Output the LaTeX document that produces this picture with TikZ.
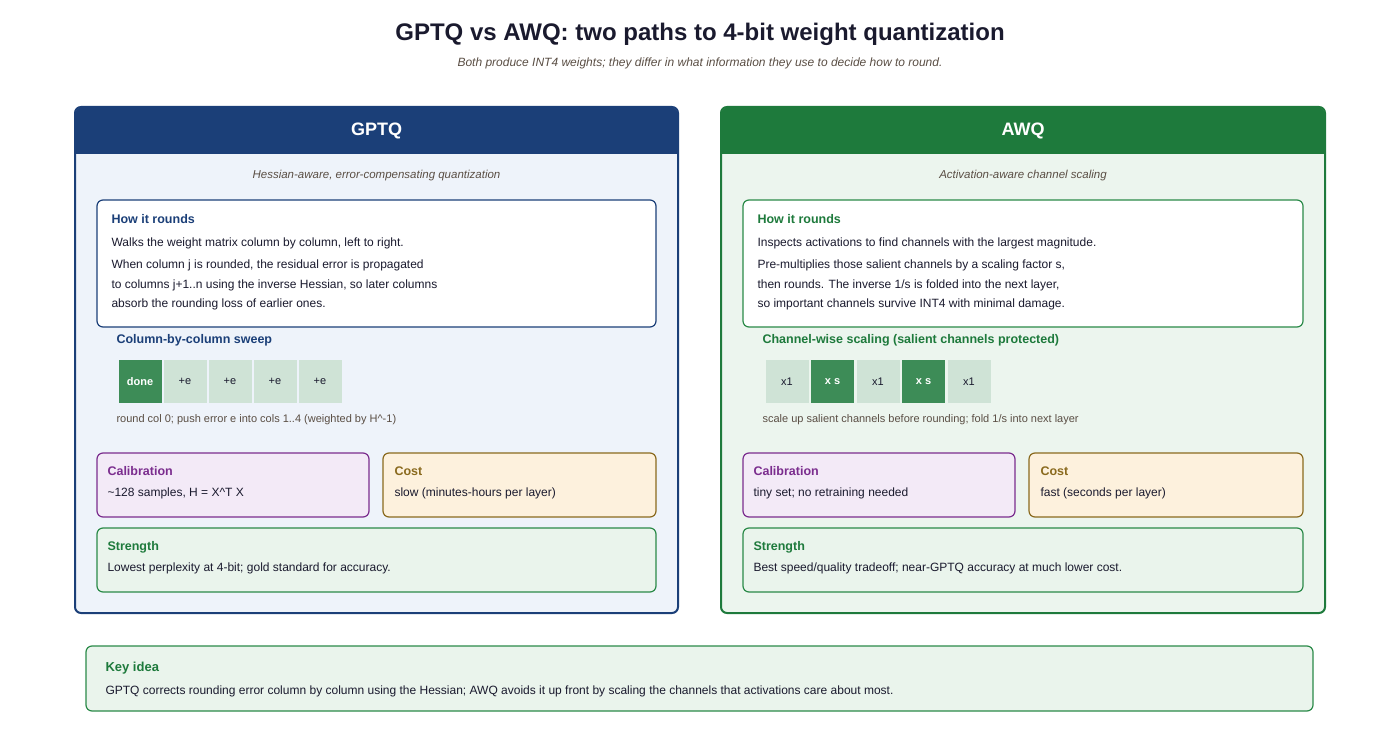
\documentclass[tikz,border=0pt]{standalone}
\usepackage{fontspec}
\setmainfont{Liberation Sans}
\usetikzlibrary{positioning}

\definecolor{gpblue}{HTML}{1B3F78}
\definecolor{gpfill}{HTML}{EEF3FA}
\definecolor{awgreen}{HTML}{1E7A3C}
\definecolor{awfill}{HTML}{ECF5EE}
\definecolor{cellhi}{HTML}{3D8C57}
\definecolor{celllo}{HTML}{CFE3D6}
\definecolor{calpurple}{HTML}{7B2D8E}
\definecolor{calfill}{HTML}{F3EAF7}
\definecolor{costbrown}{HTML}{8A6A1E}
\definecolor{costfill}{HTML}{FDF1DD}
\definecolor{strgreen}{HTML}{2A8A48}
\definecolor{strfill}{HTML}{EAF4EC}
\definecolor{ink}{HTML}{1A1A2E}
\definecolor{muted}{HTML}{5A4E44}

\tikzset{
  box/.style={draw, rounded corners=6pt, line width=1.2pt},
  head/.style={anchor=west, font=\fontsize{12.5}{15}\selectfont\bfseries},
  body/.style={anchor=west, font=\fontsize{12}{15}\selectfont, text=ink},
  note/.style={anchor=west, font=\fontsize{11}{13}\selectfont, text=muted},
  cell/.style={minimum width=43pt, minimum height=43pt, inner sep=0pt,
    font=\fontsize{11}{13}\selectfont},
}

\begin{document}
\begin{tikzpicture}[x=1pt,y=-1pt]
\useasboundingbox (0,0) rectangle (1400,754);

\node (title) at (700,34) {\fontsize{24}{28}\selectfont\bfseries\color{ink}GPTQ vs AWQ: two paths to 4-bit weight quantization};
\node (subtitle) at (700,63) {\fontsize{12}{14}\selectfont\itshape\color{muted}Both produce INT4 weights; they differ in what information they use to decide how to round.};

% GPTQ panel
\draw[box, fill=gpfill, draw=gpblue, line width=2pt] (75,107) rectangle (678,613);
\fill[gpblue, rounded corners=8pt] (75,107) rectangle (678,154);
\fill[gpblue] (75,135) rectangle (678,154);
\node[text=white, font=\fontsize{18}{22}\selectfont\bfseries] (gptq) at (376.5,131) {GPTQ};
\node[font=\fontsize{11.5}{14}\selectfont\itshape, text=muted] (gptqsub) at (376.5,176) {Hessian-aware, error-compensating quantization};

\draw[box, fill=white, draw=gpblue] (97,200) rectangle (656,327);
\node[head, text=gpblue] (gphow) at (108,219) {How it rounds};
\node[body] (gp1) at (108,243) {Walks the weight matrix column by column, left to right.};
\node[body] (gp2) at (108,265) {When column j is rounded, the residual error is propagated};
\node[body] (gp3) at (108,285) {to columns j+1..n using the inverse Hessian, so later columns};
\node[body] (gp4) at (108,304) {absorb the rounding loss of earlier ones.};

\node[head, text=gpblue] (gpsweep) at (113,340) {Column-by-column sweep};
\foreach \lab [count=\i from 0] in {done,+e,+e,+e,+e}{
  \ifnum\i=0
    \node[cell, fill=cellhi, text=white, font=\fontsize{11}{13}\selectfont\bfseries] (gpc\i) at (140+45*\i,381.5) {\lab};
  \else
    \node[cell, fill=celllo, text=ink] (gpc\i) at (140+45*\i,381.5) {\lab};
  \fi
}
\node[note] (gpnote) at (113,420) {round col 0; push error e into cols 1..4 (weighted by H\^{}-1)};

\draw[box, fill=calfill, draw=calpurple] (97,453) rectangle (369,517);
\node[head, text=calpurple] (gpcal) at (104,471) {Calibration};
\node[body] (gpcaltxt) at (104,493) {\textasciitilde128 samples, H = X\^{}T X};
\draw[box, fill=costfill, draw=costbrown] (383,453) rectangle (656,517);
\node[head, text=costbrown] (gpcost) at (391,471) {Cost};
\node[body] (gpcosttxt) at (391,493) {slow (minutes-hours per layer)};
\draw[box, fill=strfill, draw=strgreen] (97,528) rectangle (656,592);
\node[head, text=awgreen] (gpstr) at (104,547) {Strength};
\node[body] (gpstrtxt) at (104,568) {Lowest perplexity at 4-bit; gold standard for accuracy.};

% AWQ panel
\draw[box, fill=awfill, draw=awgreen, line width=2pt] (721,107) rectangle (1325,613);
\fill[awgreen, rounded corners=8pt] (721,107) rectangle (1325,154);
\fill[awgreen] (721,135) rectangle (1325,154);
\node[text=white, font=\fontsize{18}{22}\selectfont\bfseries] (awq) at (1023,131) {AWQ};
\node[font=\fontsize{11.5}{14}\selectfont\itshape, text=muted] (awqsub) at (1023,176) {Activation-aware channel scaling};

\draw[box, fill=white, draw=strgreen] (743,200) rectangle (1303,327);
\node[head, text=awgreen] (awhow) at (754,219) {How it rounds};
\node[body] (aw1) at (754,243) {Inspects activations to find channels with the largest magnitude.};
\node[body] (aw2) at (754,265) {Pre-multiplies those salient channels by a scaling factor s,};
\node[body] (aw3) at (754,285) {then rounds. The inverse 1/s is folded into the next layer,};
\node[body] (aw4) at (754,304) {so important channels survive INT4 with minimal damage.};

\node[head, text=awgreen] (awscale) at (759,340) {Channel-wise scaling (salient channels protected)};
\foreach \lab [count=\i from 0] in {x1,x s,x1,x s,x1}{
  \ifodd\i
    \node[cell, fill=cellhi, text=white, font=\fontsize{11}{13}\selectfont\bfseries] (awc\i) at (787+45.5*\i,381.5) {\lab};
  \else
    \node[cell, fill=celllo, text=ink] (awc\i) at (787+45.5*\i,381.5) {\lab};
  \fi
}
\node[note] (awnote) at (759,420) {scale up salient channels before rounding; fold 1/s into next layer};

\draw[box, fill=calfill, draw=calpurple] (743,453) rectangle (1015,517);
\node[head, text=calpurple] (awcal) at (750,471) {Calibration};
\node[body] (awcaltxt) at (750,493) {tiny set; no retraining needed};
\draw[box, fill=costfill, draw=costbrown] (1029,453) rectangle (1303,517);
\node[head, text=costbrown] (awcost) at (1037,471) {Cost};
\node[body] (awcosttxt) at (1037,493) {fast (seconds per layer)};
\draw[box, fill=strfill, draw=strgreen] (743,528) rectangle (1303,592);
\node[head, text=awgreen] (awstr) at (750,547) {Strength};
\node[body] (awstrtxt) at (750,568) {Best speed/quality tradeoff; near-GPTQ accuracy at much lower cost.};

% key idea
\draw[box, fill=strfill, draw=strgreen] (86,646) rectangle (1313,711);
\node[head, text=awgreen, font=\fontsize{13}{15}\selectfont\bfseries] (key) at (102,668) {Key idea};
\node[body] (keytxt) at (102,691) {GPTQ corrects rounding error column by column using the Hessian; AWQ avoids it up front by scaling the channels that activations care about most.};
\end{tikzpicture}
\end{document}
